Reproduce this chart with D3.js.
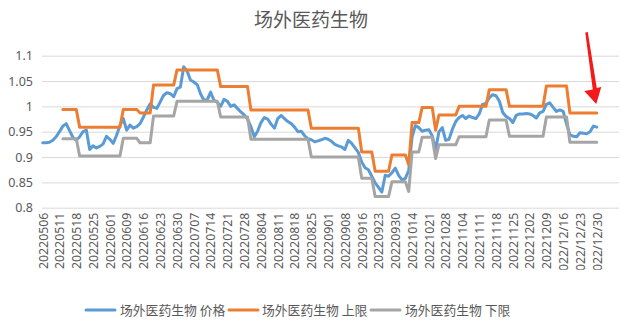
<!DOCTYPE html>
<html><head><meta charset="utf-8">
<script src="https://cdn.jsdelivr.net/npm/d3@7"></script>
<style>
html,body{margin:0;padding:0;background:#fff;}
svg{display:block;font-family:"Noto Sans CJK SC","Noto Sans",sans-serif;}
</style></head>
<body><svg id="chart" width="622" height="328"></svg>
<script>
const title = "场外医药生物";
const seriesNames = ["场外医药生物 价格", "场外医药生物 上限", "场外医药生物 下限"];
const tickLabels = ["20220506","20220511","20220518","20220525","20220601","20220609","20220616","20220623","20220630","20220707","20220714","20220721","20220728","20220804","20220811","20220818","20220825","20220901","20220908","20220916","20220923","20220930","20221014","20221021","20221028","20221104","20221111","20221118","20221125","20221202","20221209","2022/12/16","2022/12/23","2022/12/30"];
const yTicks = [0.8, 0.85, 0.9, 0.95, 1, 1.05, 1.1];

// price (one value per trading day, 166 days)
const price = [
0.928,0.928,0.929,0.933,0.940,0.950,0.961,0.966,0.952,0.939,
0.933,0.940,0.950,0.953,0.915,0.922,0.918,0.921,0.926,0.941,
0.935,0.927,0.943,0.962,0.976,0.953,0.963,0.957,0.960,0.966,
0.979,0.993,1.005,0.998,0.996,1.009,1.022,1.027,1.025,1.019,
1.035,1.038,1.078,1.070,1.052,1.048,1.043,1.025,1.012,1.013,
1.028,1.012,1.008,1.000,1.014,1.010,1.000,1.003,0.996,0.989,
0.983,0.975,0.960,0.940,0.951,0.968,0.978,0.975,0.965,0.957,
0.976,0.982,0.976,0.970,0.966,0.959,0.950,0.951,0.942,0.936,
0.934,0.930,0.932,0.934,0.937,0.935,0.931,0.925,0.922,0.920,
0.915,0.933,0.927,0.918,0.909,0.890,0.879,0.875,0.862,0.849,
0.840,0.831,0.864,0.862,0.869,0.878,0.864,0.855,0.858,0.874,
0.940,0.962,0.958,0.951,0.953,0.954,0.942,0.915,0.950,0.958,
0.933,0.935,0.955,0.970,0.978,0.982,0.976,0.981,0.978,0.976,
0.985,1.004,1.006,1.017,1.023,1.021,1.010,0.988,0.980,0.976,
0.968,0.982,0.985,0.985,0.986,0.985,0.982,0.977,0.987,0.990,
1.004,1.007,0.998,0.990,0.993,0.990,0.965,0.944,0.941,0.940,
0.948,0.947,0.946,0.950,0.961,0.959];

const upper = [
null,null,null,null,null,null,0.994,0.994,0.994,0.994,
0.994,0.959,0.959,0.959,0.959,0.959,0.959,0.959,0.959,0.959,
0.959,0.959,0.959,0.959,0.994,0.994,0.994,0.994,0.994,0.987,
0.987,0.987,0.987,1.042,1.042,1.042,1.042,1.042,1.042,1.042,
1.072,1.072,1.072,1.072,1.072,1.072,1.072,1.072,1.072,1.072,
1.072,1.072,1.072,1.039,1.039,1.039,1.039,1.039,1.039,1.039,
1.039,1.039,0.993,0.993,0.993,0.993,0.993,0.993,0.993,0.993,
0.993,0.993,0.993,0.993,0.993,0.993,0.993,0.993,0.993,0.993,
0.957,0.957,0.957,0.957,0.957,0.957,0.957,0.957,0.957,0.957,
0.957,0.957,0.957,0.957,0.957,0.910,0.910,0.910,0.910,0.872,
0.872,0.872,0.872,0.872,0.904,0.904,0.904,0.904,0.904,0.885,
0.968,0.968,0.968,0.998,0.998,0.998,0.998,0.953,0.983,0.983,
0.983,0.983,0.983,0.983,1.000,1.000,1.000,1.000,1.000,1.000,
1.000,1.000,1.000,1.033,1.033,1.033,1.033,1.033,1.033,1.000,
1.000,1.000,1.000,1.000,1.000,1.000,1.000,1.000,1.000,1.000,
1.040,1.040,1.040,1.040,1.040,1.040,1.040,0.987,0.987,0.987,
0.987,0.987,0.987,0.987,0.987,0.987];

const lower = [
null,null,null,null,null,null,0.936,0.936,0.936,0.936,
0.936,0.902,0.902,0.902,0.902,0.902,0.902,0.902,0.902,0.902,
0.902,0.902,0.902,0.902,0.937,0.937,0.937,0.937,0.937,0.928,
0.928,0.928,0.928,0.981,0.981,0.981,0.981,0.981,0.981,0.981,
1.010,1.010,1.010,1.010,1.010,1.010,1.010,1.010,1.010,1.010,
1.010,1.010,1.010,0.979,0.979,0.979,0.979,0.979,0.979,0.979,
0.979,0.979,0.935,0.935,0.935,0.935,0.935,0.935,0.935,0.935,
0.935,0.935,0.935,0.935,0.935,0.935,0.935,0.935,0.935,0.935,
0.900,0.900,0.900,0.900,0.900,0.900,0.900,0.900,0.900,0.900,
0.900,0.900,0.900,0.900,0.900,0.858,0.858,0.858,0.858,0.822,
0.822,0.822,0.822,0.822,0.851,0.851,0.851,0.851,0.851,0.832,
0.910,0.910,0.910,0.939,0.939,0.939,0.939,0.897,0.924,0.924,
0.924,0.924,0.924,0.924,0.940,0.940,0.940,0.940,0.940,0.940,
0.940,0.940,0.940,0.973,0.973,0.973,0.973,0.973,0.973,0.941,
0.941,0.941,0.941,0.941,0.941,0.941,0.941,0.941,0.941,0.941,
0.979,0.979,0.979,0.979,0.979,0.979,0.979,0.929,0.929,0.929,
0.929,0.929,0.929,0.929,0.929,0.929];

const colors = ["#5B9BD5", "#ED7D31", "#A5A5A5"];
const labelEvery = 5;

const svg = d3.select("#chart");
const W = 622, H = 328;
const plot = {left: 42, right: 619, top: 55.7, bottom: 207.7};
const slotWidth = 3.358;

const x = d3.scaleLinear()
  .domain([0, (plot.right - plot.left - 0.7) / slotWidth])
  .range([plot.left + 0.7, plot.right]);
const y = d3.scaleLinear().domain([0.8, 1.1]).range([plot.bottom, plot.top]);

// title
svg.append("text").attr("x", 311).attr("y", 27).attr("text-anchor", "middle")
  .attr("font-size", 19).attr("fill", "#595959").text(title);

// gridlines + y labels
const yAxis = d3.axisLeft(y).tickValues(yTicks).tickSize(-(plot.right - plot.left))
  .tickFormat(d => d3.format("")(+d.toFixed(2)));
const gy = svg.append("g").attr("transform", `translate(${plot.left},0)`).call(yAxis);
gy.select(".domain").remove();
gy.selectAll(".tick line").attr("stroke", "#D9D9D9").attr("stroke-width", 1);
gy.selectAll(".tick text").attr("x", -9).attr("fill", "#595959")
  .attr("font-size", 12.5).attr("font-family", "\"Noto Sans\",\"Noto Sans CJK SC\",sans-serif");

// x axis labels (clipped at the bottom like the original)
const tickIdx = tickLabels.map((d, i) => i * labelEvery);
const xAxis = d3.axisBottom(x).tickValues(tickIdx).tickSize(0)
  .tickFormat((d, i) => tickLabels[i]);
svg.append("clipPath").attr("id", "xclip").append("rect")
  .attr("x", 0).attr("y", 0).attr("width", W).attr("height", 62);
const gx = svg.append("g").attr("transform", `translate(0,${plot.bottom})`)
  .attr("clip-path", "url(#xclip)").call(xAxis);
gx.select(".domain").remove();
gx.selectAll(".tick text")
  .attr("transform", "rotate(-90)")
  .attr("text-anchor", "end")
  .attr("x", -5).attr("y", 0).attr("dy", "0.35em")
  .attr("fill", "#595959").attr("font-size", 12.3)
  .attr("font-family", "\"Noto Sans\",\"Noto Sans CJK SC\",sans-serif");

// lines
const line = d3.line().defined(d => d != null).x((d, i) => x(i)).y(d => y(d));
[price, upper, lower].forEach((s, k) => {
  svg.append("path").datum(s).attr("fill", "none")
    .attr("stroke", colors[k]).attr("stroke-width", 3)
    .attr("stroke-linejoin", "round").attr("stroke-linecap", "round")
    .attr("d", line(s));
});

// legend
const legendItems = [
  {lx: 86, tx: 120},
  {lx: 229, tx: 262},
  {lx: 371, tx: 405}
];
const lg = svg.append("g");
legendItems.forEach((it, k) => {
  lg.append("line").attr("x1", it.lx).attr("x2", it.lx + 29).attr("y1", 310).attr("y2", 310)
    .attr("stroke", colors[k]).attr("stroke-width", 3).attr("stroke-linecap", "round");
  lg.append("text").attr("x", it.tx).attr("y", 310).attr("dy", "0.36em")
    .attr("font-size", 12.8).attr("fill", "#595959").text(seriesNames[k]);
});

// red arrow annotation pointing at last upper value
const lastI = price.length - 1;
const tipX = x(lastI) - 0.5, tipY = y(upper[lastI]) - 9;
const arrow = [
  [tipX - 11, 32.5], [tipX - 8.5, 32], [tipX + 0.5, tipY - 16], [tipX + 5, tipY - 17],
  [tipX, tipY], [tipX - 12, tipY - 13], [tipX - 3.5, tipY - 14.5]
];
svg.append("path").attr("d", d3.line()(arrow) + "Z").attr("fill", "#F21A1A");
</script></body></html>
